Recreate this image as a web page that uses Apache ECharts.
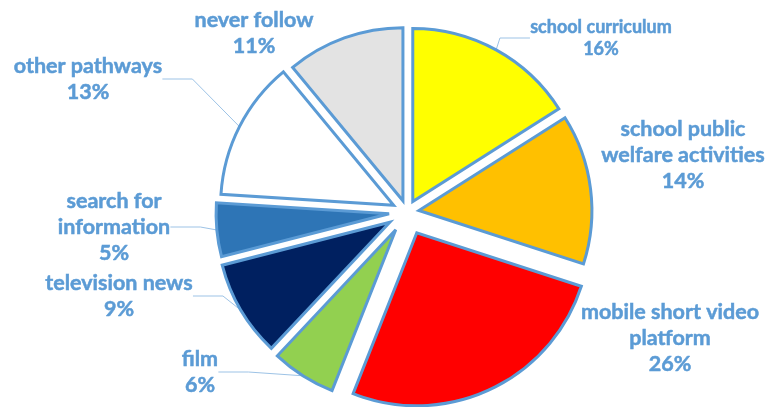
<!DOCTYPE html>
<html>
<head>
<meta charset="utf-8">
<script src="https://cdn.jsdelivr.net/npm/echarts@6/dist/echarts.min.js"></script>
<style>
  html, body { margin: 0; padding: 0; background: #ffffff; }
  #chart { width: 766px; height: 407px; }
</style>
</head>
<body>
<div id="chart"></div>
<script>
// Where pupils follow the topic: share of answers per channel (%)
const categories = [
  'school curriculum',
  'school public welfare activities',
  'mobile short video platform',
  'film',
  'television news',
  'search for information',
  'other pathways',
  'never follow'
];
const shares = [16, 14, 26, 6, 9, 5, 13, 11];

// Label text as drawn, with its line breaks
const labelTexts = [
  'school curriculum',
  'school public\nwelfare activities',
  'mobile short video\nplatform',
  'film',
  'television news',
  'search for\ninformation',
  'other pathways',
  'never follow'
];

// Styling per slice
const sliceColors = ['#ffff00', '#ffc000', '#ff0000', '#92d050', '#002060', '#2e75b6', '#ffffff', '#e3e3e3'];
const explode = [12, 12, 23, 21, 20, 18, 15, 12];
const labelPos = [[601, 38], [683, 155], [670, 338], [200, 372], [119, 296], [114, 227], [88, 79], [254, 33]];
const labelSize = [18, 21.5, 21.5, 21.5, 21.5, 21.5, 21.5, 21.5];
const labelLine = [22, 26, 26, 26, 26, 26, 26, 26];
const hasLeader = [true, false, false, true, true, true, true, false];

const CX = 407, CY = 212, R = 173;
const total = shares.reduce((a, b) => a + b, 0);

// One pie per slice so every slice can be pulled out by its own distance
let acc = 0;
const series = shares.map((v, i) => {
  const mid = (acc + v / 2) / total * 2 * Math.PI;
  acc += v;
  const cx = CX + explode[i] * Math.sin(mid);
  const cy = CY - explode[i] * Math.cos(mid);
  return {
    type: 'pie',
    center: [cx, cy],
    radius: R,
    startAngle: 90,
    clockwise: true,
    silent: true,
    animation: false,
    avoidLabelOverlap: false,
    emphasis: { disabled: true },
    data: shares.map((w, j) => j === i ? {
      value: w,
      name: categories[j],
      itemStyle: { color: sliceColors[j], borderColor: '#5b9bd5', borderWidth: 3, borderJoin: 'miter', borderMiterLimit: 4 },
      label: {
        show: true,
        formatter: labelTexts[j] + '\n{d}%',
        color: '#5b9bd5',
        fontFamily: 'Lato',
        fontWeight: 'bold',
        fontSize: labelSize[j],
        lineHeight: labelLine[j],
        textBorderColor: '#5b9bd5',
        textBorderWidth: 0.5,
        align: 'center'
      },
      labelLine: { show: hasLeader[j], lineStyle: { color: '#9dc3e6', width: 1 } }
    } : {
      value: w,
      name: categories[j],
      itemStyle: { color: 'transparent', borderWidth: 0 },
      label: { show: false },
      labelLine: { show: false }
    }),
    labelLayout: { x: labelPos[i][0], y: labelPos[i][1], align: 'center', verticalAlign: 'middle' }
  };
});

const chart = echarts.init(document.getElementById('chart'), null, { renderer: 'canvas' });
chart.setOption({ backgroundColor: '#ffffff', series: series });
</script>
</body>
</html>
